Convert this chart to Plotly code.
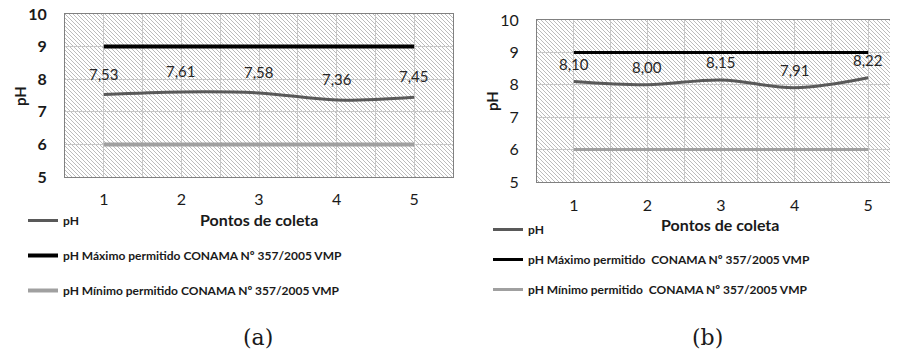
import base64
import plotly.graph_objects as go

# ---- data ----
pontos = [1, 2, 3, 4, 5]
ph_a = [7.53, 7.61, 7.58, 7.36, 7.45]
ph_b = [8.10, 8.00, 8.15, 7.91, 8.22]
ph_max = [9, 9, 9, 9, 9]
ph_min = [6, 6, 6, 6, 6]
labels_a = ["7,53", "7,61", "7,58", "7,36", "7,45"]
labels_b = ["8,10", "8,00", "8,15", "7,91", "8,22"]
y_ticks = [5, 6, 7, 8, 9, 10]
name_ph = "pH"
name_max_a = "pH Máximo permitido CONAMA Nº 357/2005 VMP"
name_min_a = "pH Mínimo permitido CONAMA Nº 357/2005 VMP"
name_max_b = "pH Máximo permitido  CONAMA Nº 357/2005 VMP"
name_min_b = "pH Mínimo permitido  CONAMA Nº 357/2005 VMP"

W, H = 898, 353
OFF = 8  # page body margin
FONT = "Lato"


def px(x):
    return (x - OFF) / W


def py(y):
    return 1 - (y - OFF) / H


def hatch(w, h):
    svg = (
        f'<svg xmlns="http://www.w3.org/2000/svg" width="{w}" height="{h}">'
        '<defs><pattern id="p" patternUnits="userSpaceOnUse" width="4" height="4">'
        '<rect width="4" height="4" fill="#ffffff"/>'
        '<path d="M-1,-1 L5,5 M3,-1 L5,1 M-1,3 L1,5" stroke="#bcbcbc" stroke-width="1"/>'
        '</pattern></defs>'
        f'<rect width="{w}" height="{h}" fill="url(#p)"/></svg>'
    )
    return "data:image/svg+xml;base64," + base64.b64encode(svg.encode()).decode()


fig = go.Figure()

# chart (a)
fig.add_trace(go.Scatter(x=pontos, y=ph_a, name=name_ph, mode="lines", line=dict(color="#595959", width=3, shape="spline"),
                         xaxis="x", yaxis="y", legend="legend"))
fig.add_trace(go.Scatter(x=pontos, y=ph_max, name=name_max_a, mode="lines", line=dict(color="#000000", width=4),
                         xaxis="x", yaxis="y", legend="legend"))
fig.add_trace(go.Scatter(x=pontos, y=ph_min, name=name_min_a, mode="lines", line=dict(color="#a0a0a0", width=4),
                         xaxis="x", yaxis="y", legend="legend"))
# chart (b)
fig.add_trace(go.Scatter(x=pontos, y=ph_b, name=name_ph, mode="lines", line=dict(color="#595959", width=3, shape="spline"),
                         xaxis="x2", yaxis="y2", legend="legend2"))
fig.add_trace(go.Scatter(x=pontos, y=ph_max, name=name_max_b, mode="lines", line=dict(color="#000000", width=3),
                         xaxis="x2", yaxis="y2", legend="legend2"))
fig.add_trace(go.Scatter(x=pontos, y=ph_min, name=name_min_b, mode="lines", line=dict(color="#a0a0a0", width=3),
                         xaxis="x2", yaxis="y2", legend="legend2"))

annotations = []
for xv, yv, t in zip(pontos, ph_a, labels_a):
    annotations.append(dict(x=xv, y=yv, xref="x", yref="y", text=t, showarrow=False, yshift=21,
                            font=dict(family=FONT, size=15, color="#262626")))
for xv, yv, t in zip(pontos, ph_b, labels_b):
    annotations.append(dict(x=xv, y=yv, xref="x2", yref="y2", text=t, showarrow=False, yshift=18,
                            font=dict(family=FONT, size=15, color="#262626")))


def note(x, y, text, size, family=FONT, angle=0):
    return dict(x=px(x), y=py(y), xref="paper", yref="paper", text=text, showarrow=False, textangle=angle,
                xanchor="center", yanchor="middle", font=dict(family=family, size=size, color="#1a1a1a"))


annotations += [
    note(259, 219, "<b>Pontos de coleta</b>", 16),
    note(720, 224, "<b>Pontos de coleta</b>", 16),
    note(20, 96, "<b>pH</b>", 15, angle=-90),
    note(492, 101, "<b>pH</b>", 15, angle=-90),
    note(258, 337, "(a)", 22, family="DejaVu Serif"),
    note(707, 337, "(b)", 22, family="DejaVu Serif"),
]

axis_common = dict(showline=True, linecolor="#808080", linewidth=1, mirror=True, zeroline=False,
                   gridcolor="#c8c8c8", gridwidth=1, ticks="", fixedrange=True, automargin=False,
                   ticklabeloverflow="allow")

legend_font = dict(family=FONT, size=12, color="#1a1a1a", weight="bold")

fig.update_layout(
    width=W, height=H,
    template="none",
    margin=dict(l=0, r=0, t=0, b=0, pad=0),
    paper_bgcolor="white",
    plot_bgcolor="rgba(0,0,0,0)",
    font=dict(family=FONT, color="#1a1a1a"),
    xaxis=dict(domain=[px(65), px(453)], range=[0.5, 5.5], tickvals=pontos, ticklabelstandoff=8,
               tickfont=dict(size=16), minor=dict(dtick=0.5, tick0=0.5, showgrid=True, gridcolor="#c8c8c8"),
               anchor="y", **axis_common),
    yaxis=dict(domain=[py(177), py(14)], range=[5, 10], tickvals=y_ticks,
               ticktext=[f"<b>{v}</b>" for v in y_ticks], ticklabelstandoff=14,
               tickfont=dict(size=16), anchor="x", **axis_common),
    xaxis2=dict(domain=[px(537), px(905)], range=[0.5, 5.5], tickvals=pontos, ticklabelstandoff=9,
                tickfont=dict(size=16), minor=dict(dtick=0.5, tick0=0.5, showgrid=True, gridcolor="#c8c8c8"),
                anchor="y2", **axis_common),
    yaxis2=dict(domain=[py(182), py(20)], range=[5, 10], tickvals=y_ticks, ticklabelstandoff=14,
                tickfont=dict(size=16), anchor="x2", **axis_common),
    legend=dict(x=px(23), y=py(206), xanchor="left", yanchor="top", bgcolor="rgba(0,0,0,0)",
                font=legend_font, tracegroupgap=16, traceorder="grouped", itemwidth=30),
    legend2=dict(x=px(488), y=py(215), xanchor="left", yanchor="top", bgcolor="rgba(0,0,0,0)",
                 font=legend_font, tracegroupgap=11, traceorder="grouped", itemwidth=30),
    showlegend=True,
    annotations=annotations,
    images=[
        dict(source=hatch(388, 163), xref="x domain", yref="y domain", x=0, y=1, sizex=1, sizey=1,
             sizing="stretch", layer="below", xanchor="left", yanchor="top"),
        dict(source=hatch(368, 162), xref="x2 domain", yref="y2 domain", x=0, y=1, sizex=1, sizey=1,
             sizing="stretch", layer="below", xanchor="left", yanchor="top"),
    ],
)

for i, tr in enumerate(fig.data):
    tr.legendgroup = f"g{i}"

fig.write_html("out.html")
